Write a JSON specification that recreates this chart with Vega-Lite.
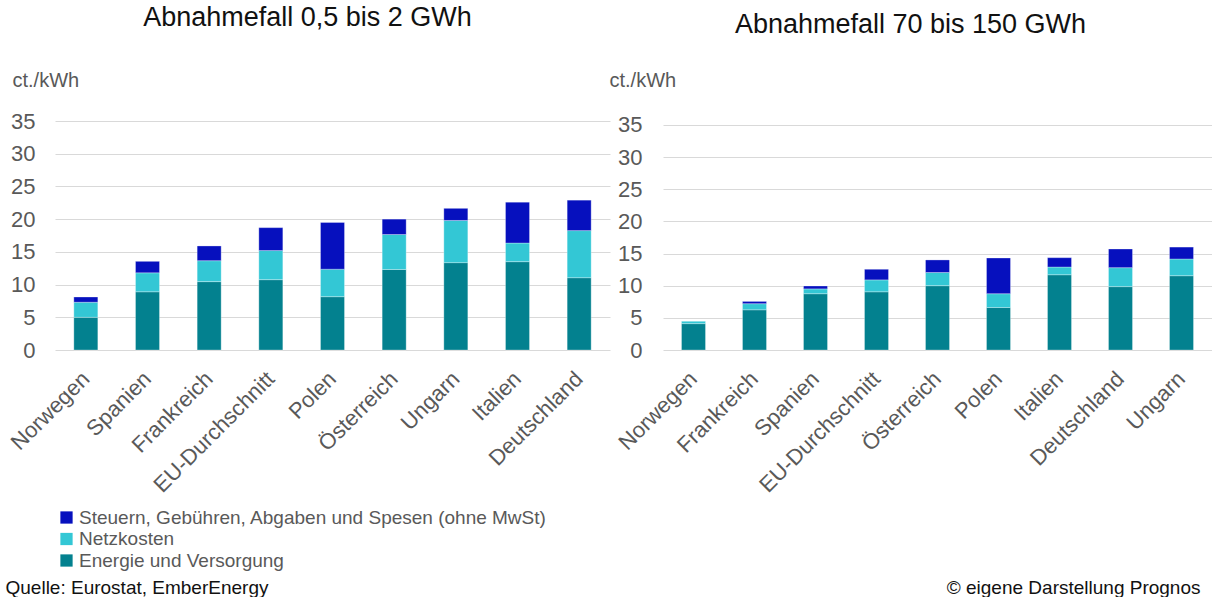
{
  "$schema": "https://vega.github.io/schema/vega-lite/v6.json",
  "padding": {"left": 5, "top": 4, "right": 0, "bottom": 0},
  "background": "white",
  "config": {
    "font": "Liberation Sans",
    "view": {"stroke": null},
    "concat": {"spacing": 53},
    "axis": {"labelFont": "Liberation Sans", "titleFont": "Liberation Sans"},
    "legend": {"labelFont": "Liberation Sans"}
  },
  "bounds": "flush",
  "datasets": {
    "klein": [
      {"land": "Norwegen", "komponente": "Energie und Versorgung", "ord": 1, "wert": 5.0},
      {"land": "Norwegen", "komponente": "Netzkosten", "ord": 2, "wert": 2.3},
      {"land": "Norwegen", "komponente": "Steuern, Gebühren, Abgaben und Spesen (ohne MwSt)", "ord": 3, "wert": 0.8},
      {"land": "Spanien", "komponente": "Energie und Versorgung", "ord": 1, "wert": 8.9},
      {"land": "Spanien", "komponente": "Netzkosten", "ord": 2, "wert": 2.9},
      {"land": "Spanien", "komponente": "Steuern, Gebühren, Abgaben und Spesen (ohne MwSt)", "ord": 3, "wert": 1.75},
      {"land": "Frankreich", "komponente": "Energie und Versorgung", "ord": 1, "wert": 10.45},
      {"land": "Frankreich", "komponente": "Netzkosten", "ord": 2, "wert": 3.2},
      {"land": "Frankreich", "komponente": "Steuern, Gebühren, Abgaben und Spesen (ohne MwSt)", "ord": 3, "wert": 2.25},
      {"land": "EU-Durchschnitt", "komponente": "Energie und Versorgung", "ord": 1, "wert": 10.75},
      {"land": "EU-Durchschnitt", "komponente": "Netzkosten", "ord": 2, "wert": 4.45},
      {"land": "EU-Durchschnitt", "komponente": "Steuern, Gebühren, Abgaben und Spesen (ohne MwSt)", "ord": 3, "wert": 3.5},
      {"land": "Polen", "komponente": "Energie und Versorgung", "ord": 1, "wert": 8.15},
      {"land": "Polen", "komponente": "Netzkosten", "ord": 2, "wert": 4.2},
      {"land": "Polen", "komponente": "Steuern, Gebühren, Abgaben und Spesen (ohne MwSt)", "ord": 3, "wert": 7.15},
      {"land": "Österreich", "komponente": "Energie und Versorgung", "ord": 1, "wert": 12.3},
      {"land": "Österreich", "komponente": "Netzkosten", "ord": 2, "wert": 5.35},
      {"land": "Österreich", "komponente": "Steuern, Gebühren, Abgaben und Spesen (ohne MwSt)", "ord": 3, "wert": 2.35},
      {"land": "Ungarn", "komponente": "Energie und Versorgung", "ord": 1, "wert": 13.35},
      {"land": "Ungarn", "komponente": "Netzkosten", "ord": 2, "wert": 6.45},
      {"land": "Ungarn", "komponente": "Steuern, Gebühren, Abgaben und Spesen (ohne MwSt)", "ord": 3, "wert": 1.85},
      {"land": "Italien", "komponente": "Energie und Versorgung", "ord": 1, "wert": 13.5},
      {"land": "Italien", "komponente": "Netzkosten", "ord": 2, "wert": 2.85},
      {"land": "Italien", "komponente": "Steuern, Gebühren, Abgaben und Spesen (ohne MwSt)", "ord": 3, "wert": 6.25},
      {"land": "Deutschland", "komponente": "Energie und Versorgung", "ord": 1, "wert": 11.05},
      {"land": "Deutschland", "komponente": "Netzkosten", "ord": 2, "wert": 7.2},
      {"land": "Deutschland", "komponente": "Steuern, Gebühren, Abgaben und Spesen (ohne MwSt)", "ord": 3, "wert": 4.65}
    ],
    "gross": [
      {"land": "Norwegen", "komponente": "Energie und Versorgung", "ord": 1, "wert": 4.1},
      {"land": "Norwegen", "komponente": "Netzkosten", "ord": 2, "wert": 0.4},
      {"land": "Norwegen", "komponente": "Steuern, Gebühren, Abgaben und Spesen (ohne MwSt)", "ord": 3, "wert": 0.0},
      {"land": "Frankreich", "komponente": "Energie und Versorgung", "ord": 1, "wert": 6.25},
      {"land": "Frankreich", "komponente": "Netzkosten", "ord": 2, "wert": 0.95},
      {"land": "Frankreich", "komponente": "Steuern, Gebühren, Abgaben und Spesen (ohne MwSt)", "ord": 3, "wert": 0.35},
      {"land": "Spanien", "komponente": "Energie und Versorgung", "ord": 1, "wert": 8.75},
      {"land": "Spanien", "komponente": "Netzkosten", "ord": 2, "wert": 0.75},
      {"land": "Spanien", "komponente": "Steuern, Gebühren, Abgaben und Spesen (ohne MwSt)", "ord": 3, "wert": 0.45},
      {"land": "EU-Durchschnitt", "komponente": "Energie und Versorgung", "ord": 1, "wert": 9.05},
      {"land": "EU-Durchschnitt", "komponente": "Netzkosten", "ord": 2, "wert": 1.85},
      {"land": "EU-Durchschnitt", "komponente": "Steuern, Gebühren, Abgaben und Spesen (ohne MwSt)", "ord": 3, "wert": 1.65},
      {"land": "Österreich", "komponente": "Energie und Versorgung", "ord": 1, "wert": 10.0},
      {"land": "Österreich", "komponente": "Netzkosten", "ord": 2, "wert": 2.05},
      {"land": "Österreich", "komponente": "Steuern, Gebühren, Abgaben und Spesen (ohne MwSt)", "ord": 3, "wert": 1.95},
      {"land": "Polen", "komponente": "Energie und Versorgung", "ord": 1, "wert": 6.6},
      {"land": "Polen", "komponente": "Netzkosten", "ord": 2, "wert": 2.15},
      {"land": "Polen", "komponente": "Steuern, Gebühren, Abgaben und Spesen (ohne MwSt)", "ord": 3, "wert": 5.55},
      {"land": "Italien", "komponente": "Energie und Versorgung", "ord": 1, "wert": 11.7},
      {"land": "Italien", "komponente": "Netzkosten", "ord": 2, "wert": 1.2},
      {"land": "Italien", "komponente": "Steuern, Gebühren, Abgaben und Spesen (ohne MwSt)", "ord": 3, "wert": 1.45},
      {"land": "Deutschland", "komponente": "Energie und Versorgung", "ord": 1, "wert": 9.85},
      {"land": "Deutschland", "komponente": "Netzkosten", "ord": 2, "wert": 2.95},
      {"land": "Deutschland", "komponente": "Steuern, Gebühren, Abgaben und Spesen (ohne MwSt)", "ord": 3, "wert": 2.9},
      {"land": "Ungarn", "komponente": "Energie und Versorgung", "ord": 1, "wert": 11.55},
      {"land": "Ungarn", "komponente": "Netzkosten", "ord": 2, "wert": 2.6},
      {"land": "Ungarn", "komponente": "Steuern, Gebühren, Abgaben und Spesen (ohne MwSt)", "ord": 3, "wert": 1.85}
    ]
  },
  "hconcat": [
    {
      "data": {"name": "klein"},
      "width": 555,
      "height": 229,
      "title": {"text": "Abnahmefall 0,5 bis 2 GWh", "fontSize": 27, "fontWeight": "normal", "color": "#111111", "frame": "bounds", "anchor": "middle", "offset": 38},
      "mark": {"type": "bar", "size": 24, "stroke": "#ffffff", "strokeWidth": 0.6, "strokeOpacity": 0.5},
      "encoding": {
        "x": {
          "field": "land", "type": "nominal", "sort": null,
          "scale": {"paddingInner": 0, "paddingOuter": 0},
          "axis": {
            "labelAngle": -45, "labelFontSize": 22, "labelColor": "#595959", "labelPadding": 25, "labelBaseline": "middle", "labelAlign": "right",
            "ticks": false, "domain": false,
            "title": "Quelle: Eurostat, EmberEnergy", "titleFontSize": 19, "titleFontWeight": "normal", "titleColor": "#111111",
            "titleX": -50, "titleY": 243, "titleAlign": "left", "titleBaseline": "alphabetic", "titleAnchor": null
          }
        },
        "y": {
          "field": "wert", "type": "quantitative", "stack": "zero",
          "scale": {"domain": [0, 35], "nice": false},
          "axis": {
            "values": [0, 5, 10, 15, 20, 25, 30, 35], "labelFontSize": 22, "labelColor": "#595959", "labelPadding": 20,
            "ticks": false, "domain": false, "gridColor": "#D9D9D9", "gridWidth": 1,
            "title": "ct./kWh", "titleAngle": 0, "titleFontSize": 20, "titleFontWeight": "normal", "titleColor": "#595959",
            "titleX": -43, "titleY": -35, "titleAlign": "left", "titleBaseline": "alphabetic", "titleAnchor": null
          }
        },
        "color": {
          "field": "komponente", "type": "nominal",
          "scale": {
            "domain": ["Steuern, Gebühren, Abgaben und Spesen (ohne MwSt)", "Netzkosten", "Energie und Versorgung"],
            "range": ["#0610BE", "#33C7D5", "#03818F"]
          },
          "legend": {
            "orient": "none", "legendX": 2, "legendY": 387, "title": null,
            "symbolType": "square", "symbolSize": 150, "symbolStrokeWidth": 0, "symbolOpacity": 1,
            "labelFontSize": 19, "labelColor": "#595959", "rowPadding": 1.5, "labelOffset": 3, "labelLimit": 700
          }
        },
        "order": {"field": "ord", "type": "quantitative"}
      }
    },
    {
      "data": {"name": "gross"},
      "width": 549,
      "height": 229,
      "title": {"text": "Abnahmefall 70 bis 150 GWh", "fontSize": 27, "fontWeight": "normal", "color": "#111111", "frame": "bounds", "anchor": "middle", "offset": 31},
      "mark": {"type": "bar", "size": 24, "stroke": "#ffffff", "strokeWidth": 0.6, "strokeOpacity": 0.5},
      "encoding": {
        "x": {
          "field": "land", "type": "nominal", "sort": null,
          "scale": {"paddingInner": 0, "paddingOuter": 0},
          "axis": {
            "labelAngle": -45, "labelFontSize": 22, "labelColor": "#595959", "labelPadding": 25, "labelBaseline": "middle", "labelAlign": "right",
            "ticks": false, "domain": false,
            "title": "© eigene Darstellung Prognos", "titleFontSize": 19, "titleFontWeight": "normal", "titleColor": "#111111",
            "titleX": 537, "titleY": 243, "titleAlign": "right", "titleBaseline": "alphabetic", "titleAnchor": null
          }
        },
        "y": {
          "field": "wert", "type": "quantitative", "stack": "zero",
          "scale": {"domain": [0, 35.6], "nice": false},
          "axis": {
            "values": [0, 5, 10, 15, 20, 25, 30, 35], "labelFontSize": 22, "labelColor": "#595959", "labelPadding": 21,
            "ticks": false, "domain": false, "gridColor": "#D9D9D9", "gridWidth": 1,
            "title": "ct./kWh", "titleAngle": 0, "titleFontSize": 20, "titleFontWeight": "normal", "titleColor": "#595959",
            "titleX": -54, "titleY": -35, "titleAlign": "left", "titleBaseline": "alphabetic", "titleAnchor": null
          }
        },
        "color": {
          "field": "komponente", "type": "nominal",
          "scale": {
            "domain": ["Steuern, Gebühren, Abgaben und Spesen (ohne MwSt)", "Netzkosten", "Energie und Versorgung"],
            "range": ["#0610BE", "#33C7D5", "#03818F"]
          }
        },
        "order": {"field": "ord", "type": "quantitative"}
      }
    }
  ]
}
